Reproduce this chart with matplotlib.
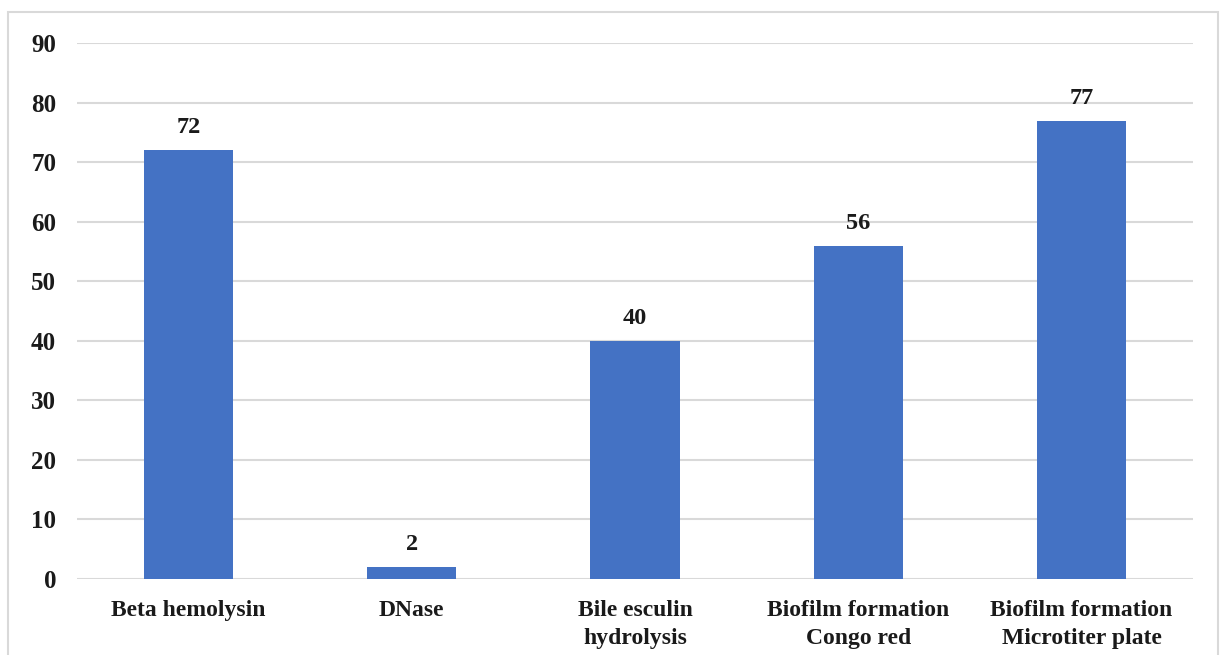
import matplotlib.pyplot as plt
from matplotlib.patches import Rectangle

tests = ["Beta hemolysin", "DNase", "Bile esculin\nhydrolysis",
         "Biofilm formation\nCongo red", "Biofilm formation\nMicrotiter plate"]
percent = [72, 2, 40, 56, 77]
yticks = [0, 10, 20, 30, 40, 50, 60, 70, 80, 90]

plt.rcParams["font.family"] = ["Liberation Serif", "DejaVu Serif"]
plt.rcParams["font.weight"] = "bold"

fig = plt.figure(figsize=(12.23, 6.55), dpi=100)
ax = fig.add_axes([0.063, 0.116, 0.9125, 0.818])

# light frame round the whole chart
fig.patches.append(Rectangle((8 / 1223, -0.05), 1210 / 1223, 1 - 12 / 655 + 0.05,
                             transform=fig.transFigure, fill=False,
                             edgecolor="#d9d9d9", linewidth=1.5))

x = range(len(tests))
bars = ax.bar(x, percent, width=0.4, color="#4472C4", zorder=3)
for b, v in zip(bars, percent):
    ax.text(b.get_x() + b.get_width() / 2, v + 2.0, str(v), ha="center",
            va="bottom", fontsize=17.5, fontweight="bold", color="#1a1a1a")

ax.set_xlim(-0.5, len(tests) - 0.5)
ax.set_ylim(0, 90)
ax.set_yticks(yticks)
ax.set_xticks(list(x))
ax.set_xticklabels(tests, fontsize=17, fontweight="bold", color="#1a1a1a",
                   linespacing=1.45)
ax.tick_params(axis="y", labelsize=18, colors="#1a1a1a", length=0, pad=15)
ax.tick_params(axis="x", length=0, pad=15)
ax.grid(axis="y", color="#d9d9d9", linewidth=1.5, zorder=0)
for s in ax.spines.values():
    s.set_visible(False)

fig.savefig("out.png", dpi=100)
